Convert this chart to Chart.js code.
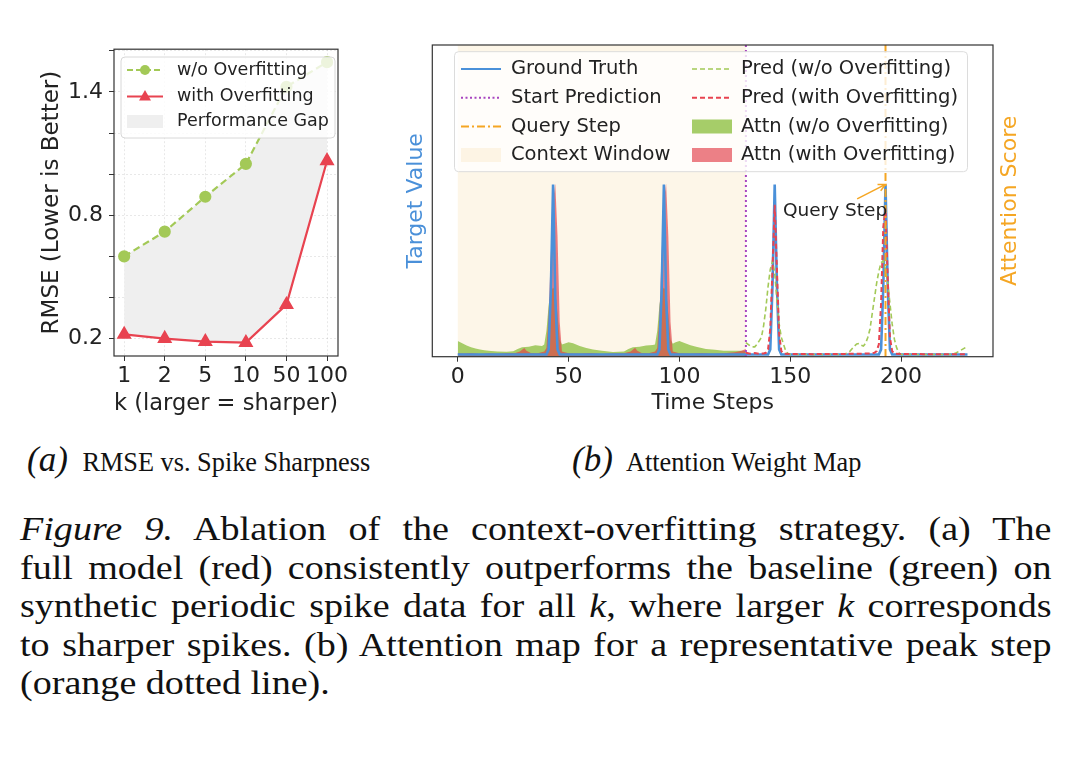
<!DOCTYPE html>
<html>
<head>
<meta charset="utf-8">
<script src="https://cdn.jsdelivr.net/npm/chart.js@4.4.1/dist/chart.umd.min.js"></script>
<style>
  body { margin: 0; background: #fff; }
  #page { position: relative; width: 1080px; height: 757px; overflow: hidden; background: #fff; }
  canvas { position: absolute; }
  .sub { position: absolute; font-family: 'Liberation Serif', 'Times New Roman', serif; font-size: 26.3px; color: #111; white-space: nowrap; }
  .sub i { font-size: 35px; margin-right: 8px; }
  #caption { position: absolute; left: 20px; top: 510px; width: 921px; transform: scaleX(1.12); transform-origin: 0 0;
    font-family: 'Liberation Serif', 'Times New Roman', serif; font-size: 34px; line-height: 38.5px; color: #111; }
  #caption div { text-align: justify; text-align-last: justify; white-space: nowrap; }
  #caption div.last { text-align-last: left; }
</style>
</head>
<body>
<div id="page">
  <canvas id="rmse" width="370" height="400" style="left:0;top:30px"></canvas>
  <canvas id="attn" width="660" height="400" style="left:380px;top:30px"></canvas>
  <div class="sub" style="left:27px;top:440px"><i>(a)</i> RMSE vs. Spike Sharpness</div>
  <div class="sub" style="left:572px;top:440px"><i>(b)</i> Attention Weight Map</div>
  <div id="caption">
    <div><i>Figure 9.</i> Ablation of the context-overfitting strategy. (a) The</div>
    <div>full model (red) consistently outperforms the baseline (green) on</div>
    <div>synthetic periodic spike data for all <i>k</i>, where larger <i>k</i> corresponds</div>
    <div>to sharper spikes. (b) Attention map for a representative peak step</div>
    <div class="last">(orange dotted line).</div>
  </div>
</div>
<script>
// ---- panel (a) data ----
const kLabels = ['1', '2', '5', '10', '50', '100'];
const rmseWithout = [0.60, 0.72, 0.89, 1.05, 1.425, 1.545];
const rmseWith = [0.22, 0.20, 0.185, 0.18, 0.365, 1.065];
const rmseTicks = [0.2, 0.4, 0.6, 0.8, 1.0, 1.2, 1.4, 1.6];
const rmseTickLabels = ['0.2', '', '', '0.8', '', '', '1.4', ''];

// ---- panel (b) data ----
const timeTicks = [0, 50, 100, 150, 200];
const contextEnd = 130;
const queryStep = 193;

const gtSteps = [0, 40, 41, 42, 43, 44, 45, 46, 90, 91, 92, 93, 94, 95, 96, 140, 141, 142, 143, 144, 145, 146, 190, 191, 192, 193, 194, 195, 196, 230];
const gtValues = [0, 0, 0.03, 0.38, 1, 0.33, 0.03, 0, 0, 0.03, 0.38, 1, 0.33, 0.03, 0, 0, 0.03, 0.4, 1, 0.4, 0.03, 0, 0, 0.03, 0.4, 1, 0.4, 0.03, 0, 0];

const predWoSteps = [130, 131, 132, 133, 134, 135, 136, 137, 138, 139, 140, 141, 142, 143, 144, 145, 146, 147, 148, 149, 150,
  174, 176, 177, 178, 179, 180, 181, 182, 183, 184, 185, 186, 187, 188, 189, 190, 191, 192, 193, 194, 195, 196, 197, 198, 199, 200,
  223, 225, 227, 229, 230];
const predWoValues = [0.07, 0.06, 0.05, 0.045, 0.045, 0.06, 0.08, 0.1, 0.17, 0.27, 0.4, 0.5, 0.55, 0.48, 0.32, 0.18, 0.1, 0.06, 0.02, 0.005, 0,
  0, 0.01, 0.02, 0.035, 0.05, 0.062, 0.065, 0.055, 0.05, 0.065, 0.1, 0.15, 0.24, 0.33, 0.42, 0.49, 0.54, 0.55, 0.5, 0.42, 0.3, 0.18, 0.09, 0.04, 0.01, 0,
  0, 0.01, 0.025, 0.04, 0.05];

const predWSteps = [130, 132, 134, 136, 138, 139, 140, 141, 142, 143, 144, 145, 146, 147, 150, 160, 170, 180,
  186, 188, 189, 190, 191, 192, 193, 194, 195, 196, 197, 200, 210, 220, 230];
const predWValues = [0.01, 0.005, 0.008, 0.004, 0.006, 0.01, 0.03, 0.15, 0.5, 0.88, 0.5, 0.12, 0.02, 0.005, 0.003, 0.002, 0.003, 0.004,
  0.006, 0.01, 0.02, 0.06, 0.3, 0.75, 0.86, 0.45, 0.1, 0.02, 0.005, 0.003, 0.002, 0.002, 0.002];

const attnWoSteps = [0, 2, 4, 6, 8, 10, 12, 15, 18, 22, 25, 27, 29, 32, 35, 38, 39, 40, 41, 42, 43, 44, 45, 46, 47, 48,
  50, 52, 55, 58, 61, 65, 70, 75, 77, 79, 82, 85, 88, 89, 90, 91, 92, 93, 94, 95, 96, 97, 98,
  100, 102, 105, 108, 112, 116, 120, 125, 130];
const attnWoValues = [0.09, 0.077, 0.065, 0.055, 0.048, 0.042, 0.037, 0.033, 0.03, 0.029, 0.032, 0.045, 0.055, 0.058, 0.066, 0.062, 0.07,
  0.15, 0.3, 0.38, 0.4, 0.38, 0.25, 0.1, 0.07, 0.075,
  0.083, 0.078, 0.062, 0.05, 0.042, 0.035, 0.027, 0.03, 0.045, 0.055, 0.058, 0.065, 0.068, 0.07,
  0.15, 0.3, 0.38, 0.4, 0.38, 0.25, 0.1, 0.075, 0.082,
  0.09, 0.08, 0.066, 0.056, 0.045, 0.04, 0.035, 0.034, 0.034];

const attnWSteps = [0, 3, 6, 10, 14, 18, 22, 26, 28, 30, 31, 33, 36, 39, 40, 41, 42, 43, 44, 45, 46, 47,
  50, 55, 60, 65, 70, 75, 78, 80, 81, 83, 86, 89, 90, 91, 92, 93, 94, 95, 96, 97,
  100, 105, 110, 115, 120, 125, 128, 130];
const attnWValues = [0.02, 0.018, 0.021, 0.016, 0.02, 0.017, 0.021, 0.022, 0.03, 0.05, 0.035, 0.022, 0.02, 0.03,
  0.05, 0.25, 0.6, 0.9, 1.0, 0.7, 0.2, 0.03,
  0.02, 0.018, 0.021, 0.016, 0.02, 0.02, 0.03, 0.052, 0.035, 0.022, 0.02, 0.03,
  0.05, 0.25, 0.6, 0.9, 1.0, 0.7, 0.2, 0.03,
  0.02, 0.018, 0.021, 0.017, 0.02, 0.025, 0.035, 0.045];

const pts = (xs, ys) => xs.map((x, i) => ({ x: x, y: ys[i] }));

Chart.defaults.font.family = '"DejaVu Sans", sans-serif';
Chart.defaults.color = '#222';

const green = '#a3c957';
const red = '#e84350';
const blue = '#4a90d9';
const orange = '#f5a623';
const purple = '#a845c0';
const gapFill = '#efefef';
const attnGreen = 'rgba(150, 196, 80, 0.85)';
const attnRed = 'rgba(226, 60, 70, 0.65)';
const contextFill = 'rgba(250, 225, 180, 0.3)';

function roundRect(ctx, x, y, w, h, r) {
  ctx.beginPath();
  ctx.moveTo(x + r, y);
  ctx.arcTo(x + w, y, x + w, y + h, r);
  ctx.arcTo(x + w, y + h, x, y + h, r);
  ctx.arcTo(x, y + h, x, y, r);
  ctx.arcTo(x, y, x + w, y, r);
  ctx.closePath();
}

function handleLine(ctx, x0, x1, y, color, width, dash) {
  ctx.save();
  ctx.strokeStyle = color;
  ctx.lineWidth = width;
  ctx.setLineDash(dash);
  ctx.beginPath();
  ctx.moveTo(x0, y);
  ctx.lineTo(x1, y);
  ctx.stroke();
  ctx.restore();
}

function drawFrame(chart) {
  const { ctx, chartArea: a } = chart;
  ctx.save();
  ctx.strokeStyle = '#333';
  ctx.lineWidth = 1.2;
  ctx.strokeRect(a.left, a.top, a.right - a.left, a.bottom - a.top);
  ctx.restore();
}

// ---- panel (a) ----
const legendA = {
  id: 'legendA',
  afterDraw(chart) {
    const ctx = chart.ctx;
    const sets = chart.data.datasets;
    ctx.save();
    roundRect(ctx, 121, 27, 214, 81, 4);
    ctx.fillStyle = 'rgba(255,255,255,0.8)';
    ctx.fill();
    ctx.strokeStyle = '#d8d8d8';
    ctx.lineWidth = 1;
    ctx.stroke();

    const rows = [40, 66.5, 91.5];
    handleLine(ctx, 127, 163, rows[0], green, 2.2, [6, 3]);
    ctx.fillStyle = green;
    ctx.beginPath();
    ctx.arc(145, rows[0], 5, 0, Math.PI * 2);
    ctx.fill();

    handleLine(ctx, 127, 163, rows[1], red, 2.2, []);
    ctx.fillStyle = red;
    ctx.beginPath();
    ctx.moveTo(145, rows[1] - 6.5);
    ctx.lineTo(151, rows[1] + 4);
    ctx.lineTo(139, rows[1] + 4);
    ctx.closePath();
    ctx.fill();

    ctx.fillStyle = gapFill;
    ctx.fillRect(127, rows[2] - 6.5, 36, 13);

    ctx.fillStyle = '#222';
    ctx.font = '17.5px "DejaVu Sans"';
    ctx.textBaseline = 'middle';
    ctx.fillText(sets[0].label, 177, rows[0]);
    ctx.fillText(sets[1].label, 177, rows[1]);
    ctx.fillText('Performance Gap', 177, rows[2]);
    ctx.restore();
    drawFrame(chart);
  }
};

new Chart(document.getElementById('rmse'), {
  type: 'line',
  data: {
    datasets: [
      {
        label: 'w/o Overfitting',
        data: pts(kLabels.map((_, i) => i), rmseWithout),
        borderColor: green,
        borderWidth: 2.2,
        borderDash: [7, 4],
        pointRadius: 5,
        pointBackgroundColor: green,
        pointBorderColor: green,
        backgroundColor: gapFill,
        fill: { target: 1 },
        order: 1
      },
      {
        label: 'with Overfitting',
        data: pts(kLabels.map((_, i) => i), rmseWith),
        borderColor: red,
        borderWidth: 2.2,
        pointStyle: 'triangle',
        pointRadius: 6.5,
        pointBackgroundColor: red,
        pointBorderColor: red,
        fill: false,
        order: 0
      }
    ]
  },
  options: {
    responsive: false,
    animation: false,
    events: [],
    layout: { padding: { top: 15, right: 32, left: 0, bottom: 0 } },
    plugins: {
      legend: { display: false },
      tooltip: { enabled: false },
      filler: { drawTime: 'beforeDatasetsDraw' }
    },
    scales: {
      x: {
        type: 'linear',
        min: -0.25,
        max: 5.27,
        afterBuildTicks: s => { s.ticks = kLabels.map((_, i) => ({ value: i })); },
        afterFit: s => { s.height = 74; },
        ticks: { callback: v => kLabels[v], autoSkip: false, maxRotation: 0, font: { size: 22 }, padding: 2, color: '#222' },
        grid: { color: 'rgba(0,0,0,0.09)', tickColor: '#333', tickLength: 5 },
        border: { display: false, dash: [2, 2] },
        title: { display: true, text: 'k (larger = sharper)', font: { size: 23 }, color: '#222', padding: { top: 0, bottom: 12 } }
      },
      y: {
        min: 0.115,
        max: 1.608,
        afterBuildTicks: s => { s.ticks = rmseTicks.map(v => ({ value: v })); },
        afterFit: s => { s.width = 114; },
        ticks: { callback: (v, i) => rmseTickLabels[i], autoSkip: false, font: { size: 22 }, padding: 6, color: '#222' },
        grid: { color: 'rgba(0,0,0,0.09)', tickColor: '#333', tickLength: 5 },
        border: { display: false, dash: [2, 2] },
        title: { display: true, text: 'RMSE (Lower is Better)', font: { size: 23 }, color: '#222', padding: { top: 38, bottom: 0 } }
      }
    }
  },
  plugins: [legendA]
});

// ---- panel (b) ----
const overlaysB = {
  id: 'overlaysB',
  beforeDatasetsDraw(chart) {
    const { ctx, chartArea: a, scales } = chart;
    const x0 = scales.x.getPixelForValue(0);
    const x1 = scales.x.getPixelForValue(contextEnd);
    ctx.save();
    ctx.fillStyle = contextFill;
    ctx.fillRect(x0, a.top, x1 - x0, a.bottom - a.top);
    ctx.restore();
  },
  afterDatasetsDraw(chart) {
    const { ctx, chartArea: a, scales } = chart;
    const vline = (v, color, dash, w) => {
      const px = scales.x.getPixelForValue(v);
      ctx.save();
      ctx.strokeStyle = color;
      ctx.lineWidth = w;
      ctx.setLineDash(dash);
      ctx.beginPath();
      ctx.moveTo(px, a.top);
      ctx.lineTo(px, a.bottom);
      ctx.stroke();
      ctx.restore();
    };
    vline(contextEnd, purple, [2, 3], 2);
    vline(queryStep, orange, [8, 3, 2, 3], 2);

    // annotation arrow pointing at the query peak
    const tipX = scales.x.getPixelForValue(queryStep);
    const tipY = scales.y.getPixelForValue(1.0);
    const tailX = scales.x.getPixelForValue(180.2);
    const tailY = scales.y.getPixelForValue(0.915);
    const ang = Math.atan2(tipY - tailY, tipX - tailX);
    ctx.save();
    ctx.strokeStyle = orange;
    ctx.lineWidth = 1.5;
    ctx.beginPath();
    ctx.moveTo(tailX, tailY);
    ctx.lineTo(tipX, tipY);
    ctx.moveTo(tipX - 8 * Math.cos(ang - 0.45), tipY - 8 * Math.sin(ang - 0.45));
    ctx.lineTo(tipX, tipY);
    ctx.lineTo(tipX - 8 * Math.cos(ang + 0.45), tipY - 8 * Math.sin(ang + 0.45));
    ctx.stroke();
    ctx.fillStyle = '#222';
    ctx.font = '18.5px "DejaVu Sans"';
    ctx.textBaseline = 'middle';
    ctx.fillText('Query Step', scales.x.getPixelForValue(146.7), scales.y.getPixelForValue(0.845));
    ctx.restore();
  },
  afterDraw(chart) {
    const { ctx, chartArea: a } = chart;
    const sets = chart.data.datasets;
    ctx.save();
    roundRect(ctx, 74.5, 21.7, 513, 120, 4);
    ctx.fillStyle = 'rgba(255,255,255,0.8)';
    ctx.fill();
    ctx.strokeStyle = '#dcdcdc';
    ctx.lineWidth = 1;
    ctx.stroke();

    const rows = [39, 67.8, 96.5, 125];
    const c1 = 81, c2 = 312, hw = 40;
    handleLine(ctx, c1, c1 + hw, rows[0], blue, 2, []);
    handleLine(ctx, c1, c1 + hw, rows[1], purple, 2, [2, 2.5]);
    handleLine(ctx, c1, c1 + hw, rows[2], orange, 2, [8, 3, 2, 3]);
    ctx.fillStyle = contextFill;
    ctx.fillRect(c1, rows[3] - 7, hw, 14);
    handleLine(ctx, c2, c2 + hw, rows[0], green, 1.6, [5, 3]);
    handleLine(ctx, c2, c2 + hw, rows[1], red, 2, [5, 3]);
    ctx.fillStyle = attnGreen;
    ctx.fillRect(c2, rows[2] - 7, hw, 14);
    ctx.fillStyle = attnRed;
    ctx.fillRect(c2, rows[3] - 7, hw, 14);

    ctx.fillStyle = '#222';
    ctx.font = '19.5px "DejaVu Sans"';
    ctx.textBaseline = 'middle';
    ctx.fillText(sets[0].label, 131, rows[0]);
    ctx.fillText('Start Prediction', 131, rows[1]);
    ctx.fillText('Query Step', 131, rows[2]);
    ctx.fillText('Context Window', 131, rows[3]);
    ctx.fillText(sets[1].label, 361, rows[0]);
    ctx.fillText(sets[2].label, 361, rows[1]);
    ctx.fillText(sets[3].label, 361, rows[2]);
    ctx.fillText(sets[4].label, 361, rows[3]);

    // right-hand axis title (reads bottom to top)
    ctx.translate(630, (a.top + a.bottom) / 2);
    ctx.rotate(-Math.PI / 2);
    ctx.textAlign = 'center';
    ctx.fillStyle = orange;
    ctx.font = '22px "DejaVu Sans"';
    ctx.fillText('Attention Score', 0, 0);
    ctx.restore();
    drawFrame(chart);
  }
};

new Chart(document.getElementById('attn'), {
  type: 'line',
  data: {
    datasets: [
      { label: 'Ground Truth', data: pts(gtSteps, gtValues), borderColor: blue, borderWidth: 2.6, pointRadius: 0, fill: false, yAxisID: 'y', order: 3 },
      { label: 'Pred (w/o Overfitting)', data: pts(predWoSteps, predWoValues), borderColor: green, borderWidth: 1.6, borderDash: [5, 3], pointRadius: 0, fill: false, yAxisID: 'y', order: 2 },
      { label: 'Pred (with Overfitting)', data: pts(predWSteps, predWValues), borderColor: red, borderWidth: 2, borderDash: [5, 3], pointRadius: 0, fill: false, yAxisID: 'y', order: 1 },
      { label: 'Attn (w/o Overfitting)', data: pts(attnWoSteps, attnWoValues), borderColor: 'rgba(0,0,0,0)', borderWidth: 1, backgroundColor: attnGreen, pointRadius: 0, fill: 'origin', yAxisID: 'y2', order: 5 },
      { label: 'Attn (with Overfitting)', data: pts(attnWSteps, attnWValues), borderColor: 'rgba(0,0,0,0)', borderWidth: 1, backgroundColor: attnRed, pointRadius: 0, fill: 'origin', yAxisID: 'y2', order: 4 }
    ]
  },
  options: {
    responsive: false,
    animation: false,
    events: [],
    layout: { padding: { top: 15, right: 47, left: 0, bottom: 0 } },
    plugins: { legend: { display: false }, tooltip: { enabled: false } },
    scales: {
      x: {
        type: 'linear',
        min: -11.5,
        max: 241.5,
        afterBuildTicks: s => { s.ticks = timeTicks.map(v => ({ value: v })); },
        afterFit: s => { s.height = 73.3; },
        ticks: { autoSkip: false, maxRotation: 0, font: { size: 22 }, padding: 2, color: '#222' },
        grid: { drawOnChartArea: false, tickColor: '#333', tickLength: 5 },
        border: { display: false },
        title: { display: true, text: 'Time Steps', font: { size: 22 }, color: '#222', padding: { top: 0, bottom: 14 } }
      },
      y: {
        min: -0.013,
        max: 1.82,
        afterFit: s => { s.width = 52.3; },
        ticks: { display: false },
        grid: { display: false },
        border: { display: false },
        title: { display: true, text: 'Target Value', font: { size: 22 }, color: blue, padding: { top: 23.5, bottom: 0 } }
      },
      y2: { position: 'right', min: 0, max: 1.8, display: false }
    }
  },
  plugins: [overlaysB]
});
</script>
</body>
</html>
